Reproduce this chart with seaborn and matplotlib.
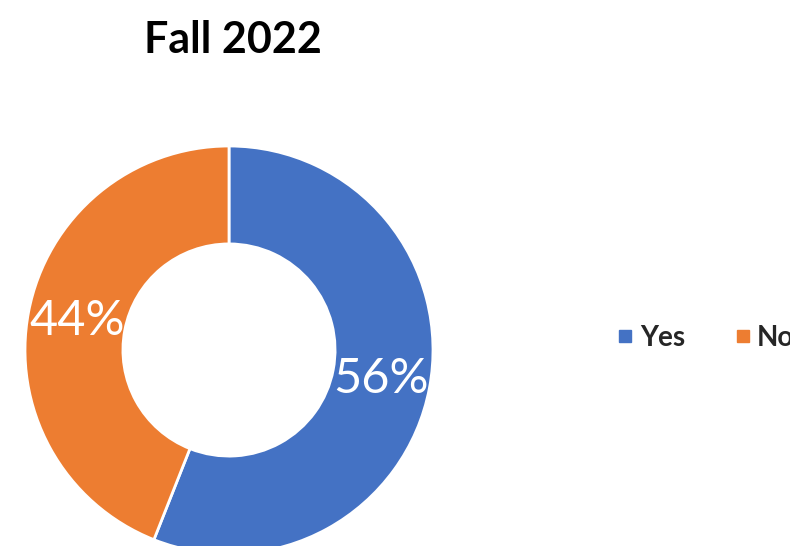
import matplotlib
matplotlib.use("Agg")
import matplotlib.pyplot as plt
import seaborn as sns
from matplotlib.lines import Line2D

# chart data
labels = ["Yes", "No"]
shares = [56, 44]
colors = ["#4472C4", "#ED7D31"]
title = "Fall 2022"

sns.set_theme(style="white")
plt.rcParams["font.family"] = ["Lato", "DejaVu Sans"]

fig = plt.figure(figsize=(7.9, 5.46), dpi=100)
fig.patch.set_facecolor("white")

# donut axes, square box so the ring is round (runs off the bottom edge like the original)
ax = fig.add_axes([25 / 790, -8 / 546, 408 / 790, 408 / 546])
wedges, texts, autotexts = ax.pie(
    shares, colors=colors, startangle=90, counterclock=False,
    autopct="%.0f%%", pctdistance=0.76,
    wedgeprops=dict(width=0.48, edgecolor="white", linewidth=2),
    textprops=dict(color="white", fontsize=35))
ax.set_xlim(-1, 1)
ax.set_ylim(-1, 1)
for w in wedges:
    w.set_clip_on(False)

fig.text(233 / 790, 1 - 40 / 546, title, ha="center", va="center",
         fontsize=31, fontweight="bold", color="black")

# legend sits at the right edge, "No" runs off the picture as in the reference
handles = [Line2D([], [], marker="s", linestyle="", markersize=8.6, color=c) for c in colors]
fig.legend(handles, labels, loc="center left", bbox_to_anchor=(619 / 790, 1 - 338 / 546),
           ncol=2, frameon=False, borderpad=0, borderaxespad=0,
           handlelength=0.45, handletextpad=0.3, columnspacing=1.85,
           prop=dict(size=20, weight="bold"))

fig.savefig("out.png", dpi=100)
